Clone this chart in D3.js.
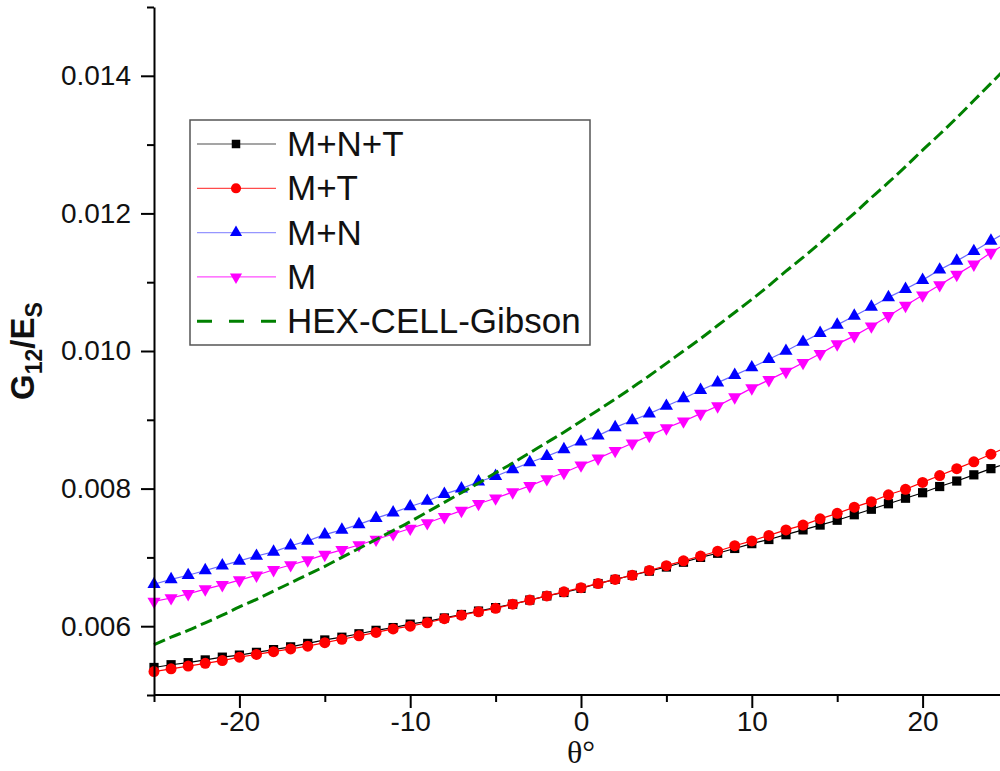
<!DOCTYPE html>
<html>
<head>
<meta charset="utf-8">
<script src="https://cdn.jsdelivr.net/npm/d3@7"></script>
<style>
  html, body { margin: 0; padding: 0; background: #fff; }
  svg { display: block; }
</style>
</head>
<body>
<svg id="chart" width="1000" height="771"></svg>
<script>
// ---------- DATA ----------
const theta = [-25,-24,-23,-22,-21,-20,-19,-18,-17,-16,-15,-14,-13,-12,-11,-10,-9,-8,-7,-6,-5,-4,-3,-2,-1,0,
  1,2,3,4,5,6,7,8,9,10,11,12,13,14,15,16,17,18,19,20,21,22,23,24,25];

const seriesNames = ["M+N+T", "M+T", "M+N", "M", "HEX-CELL-Gibson"];

const mnt = [0.00540,0.00544,0.00547,0.00551,0.00555,0.00558,0.00562,0.00566,0.00570,0.00575,0.00580,0.00584,0.00589,
  0.00594,0.00598,0.00603,0.00607,0.00612,0.00617,0.00622,0.00627,0.00632,0.00638,0.00644,0.00649,0.00655,
  0.00662,0.00668,0.00674,0.00680,0.00686,0.00693,0.00700,0.00706,0.00713,0.00720,0.00726,0.00733,0.00740,
  0.00747,0.00754,0.00762,0.00770,0.00778,0.00786,0.00794,0.00803,0.00811,0.00820,0.00829,0.00837];

const mt = [0.00534,0.00538,0.00542,0.00546,0.00550,0.00555,0.00559,0.00563,0.00567,0.00571,0.00576,0.00581,0.00586,
  0.00591,0.00596,0.00600,0.00605,0.00611,0.00616,0.00621,0.00626,0.00632,0.00638,0.00644,0.00650,0.00656,
  0.00662,0.00668,0.00674,0.00681,0.00688,0.00695,0.00702,0.00709,0.00717,0.00724,0.00732,0.00740,0.00747,
  0.00756,0.00764,0.00773,0.00781,0.00791,0.00799,0.00809,0.00819,0.00829,0.00839,0.00850,0.00861];

const mn = [0.00661,0.00668,0.00674,0.00681,0.00688,0.00695,0.00702,0.00708,0.00717,0.00724,0.00733,0.00740,0.00748,
  0.00757,0.00765,0.00774,0.00782,0.00792,0.00800,0.00810,0.00818,0.00828,0.00838,0.00847,0.00857,0.00868,
  0.00877,0.00889,0.00899,0.00909,0.00920,0.00931,0.00943,0.00954,0.00965,0.00976,0.00988,0.01000,0.01013,
  0.01026,0.01038,0.01051,0.01064,0.01078,0.01090,0.01103,0.01118,0.01131,0.01145,0.01160,0.01174];

const m = [0.00636,0.00641,0.00647,0.00654,0.00660,0.00667,0.00674,0.00682,0.00689,0.00696,0.00704,0.00711,0.00718,
  0.00726,0.00734,0.00742,0.00750,0.00759,0.00768,0.00778,0.00786,0.00795,0.00804,0.00814,0.00823,0.00834,
  0.00844,0.00855,0.00866,0.00877,0.00888,0.00898,0.00909,0.00920,0.00933,0.00946,0.00958,0.00970,0.00983,
  0.00996,0.01010,0.01022,0.01036,0.01051,0.01066,0.01081,0.01096,0.01111,0.01126,0.01143,0.01158];

const hex = [0.00573,0.00584,0.00594,0.00605,0.00616,0.00628,0.00639,0.00651,0.00663,0.00675,0.00687,0.00700,0.00713,
  0.00726,0.00739,0.00752,0.00766,0.00780,0.00794,0.00808,0.00823,0.00837,0.00852,0.00867,0.00882,0.00898,
  0.00914,0.00930,0.00947,0.00964,0.00982,0.01000,0.01018,0.01037,0.01056,0.01075,0.01095,0.01116,0.01136,
  0.01157,0.01179,0.01200,0.01223,0.01245,0.01268,0.01292,0.01315,0.01339,0.01364,0.01389,0.01414];

const xMajorTicks = [-20, -10, 0, 10, 20];
const xTickLabels = ["-20", "-10", "0", "10", "20"];
const xMinorTicks = [-25, -15, -5, 5, 15, 25];
const yMajorTicks = [0.006, 0.008, 0.010, 0.012, 0.014];
const yTickLabels = ["0.006", "0.008", "0.010", "0.012", "0.014"];
const yMinorTicks = [0.005, 0.007, 0.009, 0.011, 0.013, 0.015];

// ---------- LAYOUT ----------
const svg = d3.select("#chart");
const L = 154, B = 695, T = 7, R = 1008;
const x = d3.scaleLinear().domain([-25, 25]).range([L, R]);
const y = d3.scaleLinear().domain([0.005, 0.015]).range([B, T]);
const FONT = "'Liberation Sans', Arial, sans-serif";

const styles = [
  { name: seriesNames[0], values: mnt, color: "#000000", line: "#000000", symbol: d3.symbolSquare, size: 85, rot: 0 },
  { name: seriesNames[1], values: mt,  color: "#ff0000", line: "#ff0000", symbol: d3.symbolCircle, size: 95, rot: 0 },
  { name: seriesNames[2], values: mn,  color: "#0000ff", line: "#6a6aff", symbol: d3.symbolTriangle, size: 75, rot: 0 },
  { name: seriesNames[3], values: m,   color: "#ff00ff", line: "#ff00ff", symbol: d3.symbolTriangle, size: 75, rot: 180 },
];

const plot = svg.append("g");

// lines + markers
const lineGen = d3.line().x((d, i) => x(theta[i])).y(d => y(d));
styles.forEach(s => {
  plot.append("path").datum(s.values)
    .attr("d", lineGen)
    .attr("fill", "none").attr("stroke", s.line).attr("stroke-width", 1.2);
  plot.append("g").selectAll("path").data(s.values).join("path")
    .attr("d", d3.symbol().type(s.symbol).size(s.size))
    .attr("transform", (d, i) => `translate(${x(theta[i])},${y(d)}) rotate(${s.rot})`)
    .attr("fill", s.color);
});

// green dashed
const greenLine = d3.line().x((d, i) => x(theta[i])).y(d => y(d)).curve(d3.curveMonotoneX);
plot.append("path").datum(hex)
  .attr("d", greenLine)
  .attr("fill", "none").attr("stroke", "#008000").attr("stroke-width", 3)
  .attr("stroke-dasharray", "12,5");

// ---------- AXES ----------
const axisStyle = g => {
  g.select(".domain").attr("stroke", "#000").attr("stroke-width", 2);
  g.selectAll(".tick line").attr("stroke", "#000").attr("stroke-width", 2);
};

const xAxisMajor = svg.append("g").attr("transform", `translate(0,${B})`)
  .call(d3.axisBottom(x).tickValues(xMajorTicks).tickSize(13).tickSizeOuter(0).tickPadding(3)
    .tickFormat((d, i) => xTickLabels[i]));
xAxisMajor.select(".domain").attr("d", `M${L},0H1000`);
axisStyle(xAxisMajor);
xAxisMajor.selectAll("text").attr("font-family", FONT).attr("font-size", 28).attr("fill", "#111");

const xAxisMinor = svg.append("g").attr("transform", `translate(0,${B})`)
  .call(d3.axisBottom(x).tickValues(xMinorTicks).tickSize(7).tickSizeOuter(0).tickFormat(""));
xAxisMinor.select(".domain").remove();
axisStyle(xAxisMinor);

const yAxisMajor = svg.append("g").attr("transform", `translate(${L},0)`)
  .call(d3.axisLeft(y).tickValues(yMajorTicks).tickSize(13).tickSizeOuter(0).tickPadding(10)
    .tickFormat((d, i) => yTickLabels[i]));
axisStyle(yAxisMajor);
yAxisMajor.selectAll("text").attr("font-family", FONT).attr("font-size", 28).attr("fill", "#111");

const yAxisMinor = svg.append("g").attr("transform", `translate(${L},0)`)
  .call(d3.axisLeft(y).tickValues(yMinorTicks).tickSize(7).tickSizeOuter(0).tickFormat(""));
yAxisMinor.select(".domain").remove();
axisStyle(yAxisMinor);

// axis titles
svg.append("text")
  .attr("x", x(0)).attr("y", 763)
  .attr("text-anchor", "middle")
  .attr("font-family", "'Liberation Serif', 'Times New Roman', serif")
  .attr("font-size", 32).attr("fill", "#111")
  .text("θ°");

const yt = svg.append("text")
  .attr("transform", "translate(34,351) rotate(-90)")
  .attr("text-anchor", "middle")
  .attr("font-family", FONT).attr("font-weight", "bold")
  .attr("font-size", 33).attr("fill", "#111");
yt.append("tspan").text("G");
yt.append("tspan").attr("font-size", 23).attr("dy", 8).text("12");
yt.append("tspan").attr("dy", -8).text("/E");
yt.append("tspan").attr("font-size", 23).attr("dy", 8).text("S");

// ---------- LEGEND ----------
const leg = svg.append("g");
leg.append("rect").attr("x", 190).attr("y", 120).attr("width", 400).attr("height", 225)
  .attr("fill", "#fff").attr("stroke", "#555").attr("stroke-width", 1.5);
const rowY = i => 144 + i * 44.3;
styles.forEach((s, i) => {
  leg.append("line").attr("x1", 197).attr("x2", 276).attr("y1", rowY(i)).attr("y2", rowY(i))
    .attr("stroke", s.line).attr("stroke-width", 1.2).attr("stroke-opacity", 0.7);
  leg.append("path").attr("d", d3.symbol().type(s.symbol).size(s.size * 0.85))
    .attr("transform", `translate(236,${rowY(i)}) rotate(${s.rot})`).attr("fill", s.color);
  leg.append("text").attr("x", 287).attr("y", rowY(i) + 12)
    .attr("font-family", FONT).attr("font-size", 35).attr("fill", "#111").text(s.name);
});
leg.append("line").attr("x1", 197).attr("x2", 276).attr("y1", rowY(4)).attr("y2", rowY(4))
  .attr("stroke", "#008000").attr("stroke-width", 3).attr("stroke-dasharray", "15,17");
leg.append("text").attr("x", 287).attr("y", rowY(4) + 12)
  .attr("font-family", FONT).attr("font-size", 35).attr("fill", "#111").text(seriesNames[4]);
</script>
</body>
</html>
